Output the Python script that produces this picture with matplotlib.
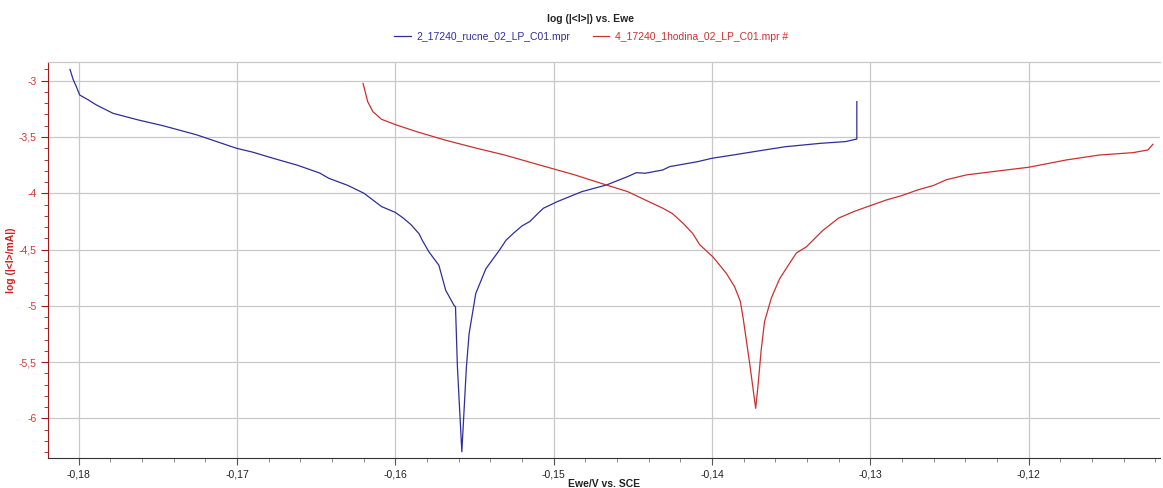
import matplotlib
matplotlib.use("Agg")
import matplotlib.pyplot as plt
from matplotlib.ticker import MultipleLocator, FuncFormatter

plt.rcParams['font.family'] = ['Liberation Sans', 'DejaVu Sans']

# ---- data ----
blue_label = "2_17240_rucne_02_LP_C01.mpr"
red_label = "4_17240_1hodina_02_LP_C01.mpr #"

blue_ewe = [-0.18055, -0.18035, -0.18015, -0.17994, -0.17940, -0.17888, -0.17783, -0.17620,
            -0.17467, -0.17257, -0.17004, -0.16900, -0.16770, -0.16620, -0.16478, -0.16420,
            -0.16300, -0.16198, -0.16087, -0.16000, -0.15950, -0.15900, -0.15850, -0.15830,
            -0.15788, -0.15725, -0.15682, -0.15630, -0.15620, -0.15608, -0.15580, -0.15576,
            -0.15551, -0.15534, -0.15492, -0.15428, -0.15343, -0.15301, -0.15250, -0.15200,
            -0.15150, -0.15100, -0.15065, -0.14977, -0.14821, -0.14666, -0.14533, -0.14478,
            -0.14422, -0.14311, -0.14267, -0.14090, -0.14000, -0.13867, -0.13667, -0.13534,
            -0.13312, -0.13156, -0.13085, -0.13085]
blue_logi = [-2.90, -2.99, -3.053, -3.127, -3.17, -3.216, -3.29, -3.35,
             -3.40, -3.48, -3.60, -3.635, -3.69, -3.75, -3.82, -3.867,
             -3.93, -4.00, -4.118, -4.17, -4.22, -4.28, -4.36, -4.417,
             -4.52, -4.639, -4.861, -4.994, -5.008, -5.54, -6.296, -6.19,
             -5.54, -5.245, -4.89, -4.67, -4.506, -4.417, -4.35, -4.29,
             -4.25, -4.18, -4.133, -4.074, -3.985, -3.926, -3.852, -3.817,
             -3.822, -3.793, -3.763, -3.719, -3.689, -3.66, -3.615, -3.586,
             -3.556, -3.541, -3.518, -3.186]

red_ewe = [-0.16204, -0.16190, -0.16175, -0.16142, -0.16087, -0.16000, -0.15865, -0.15687,
           -0.15487, -0.15310, -0.15088, -0.14866, -0.14688, -0.14533, -0.14422, -0.14310,
           -0.14250, -0.14180, -0.14120, -0.14078, -0.13994, -0.13910, -0.13857, -0.13821,
           -0.13804, -0.13762, -0.13724, -0.13710, -0.13689, -0.13668, -0.13625, -0.13573,
           -0.13509, -0.13467, -0.13404, -0.13362, -0.13300, -0.13200, -0.13100, -0.13000,
           -0.12900, -0.12800, -0.12700, -0.12600, -0.12520, -0.12394, -0.12183, -0.12000,
           -0.11762, -0.11552, -0.11340, -0.11246, -0.11215]
red_logi = [-3.024, -3.10, -3.185, -3.275, -3.343, -3.39, -3.453, -3.527,
            -3.60, -3.66, -3.749, -3.837, -3.917, -3.985, -4.059, -4.133,
            -4.18, -4.27, -4.36, -4.456, -4.565, -4.71, -4.83, -4.96,
            -5.10, -5.51, -5.91, -5.72, -5.39, -5.14, -4.93, -4.76,
            -4.62, -4.53, -4.476, -4.417, -4.33, -4.22, -4.16, -4.11,
            -4.06, -4.02, -3.97, -3.93, -3.88, -3.837, -3.80, -3.769,
            -3.704, -3.66, -3.639, -3.615, -3.565]

BLUE = "#2e2e9c"
RED = "#cc3030"
AXRED = "#a01818"

fig = plt.figure(figsize=(11.63, 4.88), dpi=100)
ax = fig.add_axes([48 / 1163, 30 / 488, 1112 / 1163, 396 / 488])

lb, = ax.plot(blue_ewe, blue_logi, color=BLUE, lw=0.9, label=blue_label)
lr, = ax.plot(red_ewe, red_logi, color=RED, lw=0.9, label=red_label)

ax.set_xlim(-0.18194, -0.1117)
ax.set_ylim(-6.351, -2.834)

ax.xaxis.set_major_locator(MultipleLocator(0.01))
ax.xaxis.set_minor_locator(MultipleLocator(0.002))
ax.yaxis.set_major_locator(MultipleLocator(0.5))
ax.yaxis.set_minor_locator(MultipleLocator(0.1))

def comma(v, pos):
    s = ("%.2f" % v) if abs(v) < 1 else ("%g" % v)
    s = s.rstrip('0').rstrip('.') if '.' in s else s
    return s.replace('.', ',')

ax.xaxis.set_major_formatter(FuncFormatter(comma))
ax.yaxis.set_major_formatter(FuncFormatter(comma))

ax.grid(True, which='major', color='#c8c8c8', lw=0.9)
ax.set_axisbelow(True)

for s in ['right']:
    ax.spines[s].set_visible(False)
ax.spines['top'].set_color('#c8c8c8')
ax.spines['top'].set_linewidth(0.9)
ax.spines['left'].set_color(AXRED)
ax.spines['bottom'].set_color('#333333')

ax.tick_params(axis='x', which='major', length=5, width=0.8, color='#555555',
               labelsize=7.5, labelcolor='#222222', pad=3)
ax.tick_params(axis='x', which='minor', length=3, width=0.6, color='#777777')
ax.tick_params(axis='y', which='major', length=5, width=0.8, color=AXRED,
               labelsize=7.5, labelcolor='#d03a3a', pad=3)
ax.tick_params(axis='y', which='minor', length=3, width=0.6, color=AXRED)

ax.set_xlabel("Ewe/V vs. SCE", fontsize=7.5, fontweight='bold', color='#222222', labelpad=0)
ax.set_ylabel("log (|<I>/mA|)", fontsize=7.5, fontweight='bold', color='#cc2222', labelpad=2)

fig.text(591 / 1163, 1 - 19 / 488, "log (|<I>|) vs. Ewe", ha='center', va='center',
         fontsize=7.5, fontweight='bold', color='#222222')

leg = fig.legend(handles=[lb, lr], loc='center', bbox_to_anchor=(591 / 1163, 1 - 37 / 488),
                 ncol=2, frameon=False, fontsize=7.5, handlelength=1.6, columnspacing=2.2,
                 handletextpad=0.5)
for txt, c in zip(leg.get_texts(), [BLUE, RED]):
    txt.set_color(c)

fig.savefig("out.png", dpi=100)
